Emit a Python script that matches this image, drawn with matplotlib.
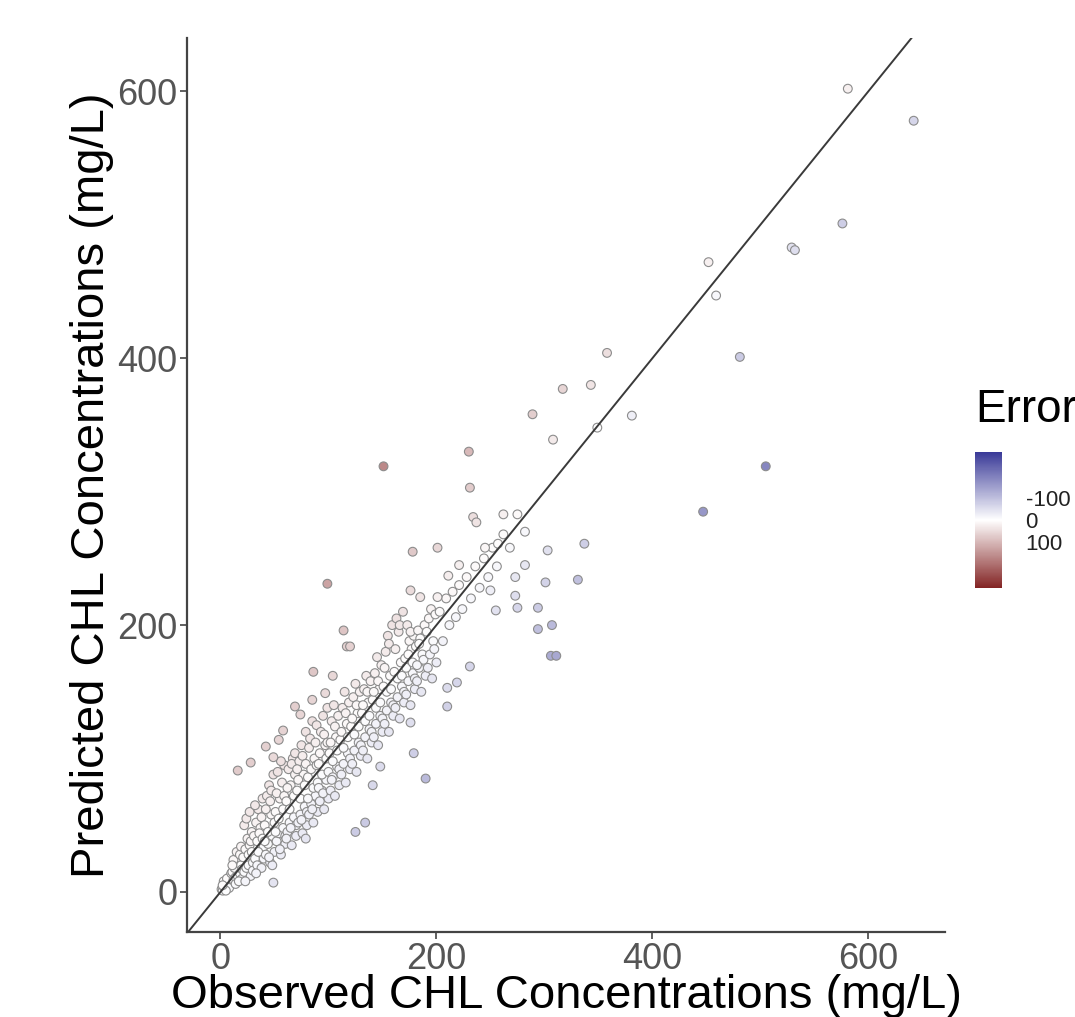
import numpy as np
import matplotlib
matplotlib.use("Agg")
import matplotlib.pyplot as plt
from matplotlib.colors import LinearSegmentedColormap, TwoSlopeNorm

plt.rcParams['font.family'] = ['Liberation Sans', 'DejaVu Sans']

# ---- data (observed, predicted) ----
obs_cloud = [
    1, 2, 3, 4, 5, 6, 7, 8, 9, 10, 3, 6, 8, 5, 10, 2,
    11, 12, 13, 14, 15, 16, 17, 18, 19, 20, 12, 15, 18, 14, 17, 20, 11, 19,
    21, 22, 23, 24, 25, 26, 27, 28, 29, 30, 22, 24, 26, 28, 30, 23, 27, 29,
    31, 32, 33, 34, 35, 36, 37, 38, 39, 40, 32, 34, 36, 38, 40, 33, 35, 39,
    41, 42, 43, 44, 45, 46, 47, 48, 49, 50, 42, 44, 46, 48, 50, 41, 45, 47,
    51, 52, 53, 54, 55, 56, 57, 58, 59, 60, 52, 54, 56, 58, 60, 51, 55, 59,
    61, 62, 63, 64, 65, 66, 67, 68, 69, 70, 62, 64, 66, 68, 70, 61, 65, 69,
    71, 72, 73, 74, 75, 76, 77, 78, 79, 80, 72, 74, 76, 78, 80, 71, 75, 79,
    81, 82, 83, 84, 85, 86, 87, 88, 89, 90, 82, 84, 86, 88, 90, 81, 85, 89,
    91, 92, 93, 94, 95, 96, 97, 98, 99, 100, 92, 94, 96, 98, 100, 91, 95, 99,
    101, 102, 103, 104, 105, 106, 107, 108, 109, 110, 102, 104, 106, 108, 110, 103,
    111, 112, 113, 114, 115, 116, 117, 118, 119, 120, 112, 114, 116, 118, 120,
    121, 122, 123, 124, 125, 126, 127, 128, 129, 130, 122, 124, 126, 128, 130,
    131, 132, 133, 134, 135, 136, 137, 138, 139, 140, 132, 134, 136, 138, 140,
    141, 142, 143, 144, 145, 146, 147, 148, 149, 150, 142, 144, 146, 148, 150,
    151, 152, 153, 154, 155, 156, 157, 158, 159, 160, 152, 154, 156, 158, 160,
    161, 162, 163, 164, 165, 166, 167, 168, 169, 170, 162, 164, 166, 168, 170,
    171, 172, 173, 174, 175, 176, 177, 178, 179, 180, 172, 174, 176, 178, 180,
    181, 182, 183, 184, 185, 186, 187, 188, 189, 190, 182, 184,
    191, 192, 193, 194, 195, 196, 197, 198, 199, 200,
    203, 206, 209, 212, 215, 218, 221, 224, 228, 232,
    236, 240, 244, 248, 252, 256, 262, 268, 275, 282,
]
pred_cloud = [
    2, 1, 4, 3, 6, 4, 9, 6, 12, 8, 8, 10, 3, 1, 14, 5,
    15, 9, 18, 11, 22, 12, 25, 14, 20, 10, 24, 30, 28, 6, 8, 17, 20, 34,
    26, 15, 32, 18, 40, 20, 35, 12, 45, 22, 50, 55, 28, 38, 16, 8, 60, 30,
    42, 25, 52, 20, 62, 30, 48, 18, 70, 34, 65, 38, 44, 56, 25, 14, 30, 40,
    50, 28, 72, 36, 80, 22, 58, 42, 88, 30, 62, 45, 68, 20, 52, 38, 26, 76,
    60, 38, 90, 44, 70, 28, 82, 48, 95, 36, 74, 55, 98, 62, 42, 45, 32, 72,
    68, 45, 92, 52, 80, 35, 100, 56, 88, 42, 78, 62, 96, 72, 50, 40, 48, 104,
    76, 52, 98, 58, 110, 44, 88, 64, 120, 50, 84, 70, 102, 80, 60, 92, 54, 96,
    86, 58, 115, 66, 128, 52, 100, 72, 125, 60, 108, 92, 78, 112, 82, 70, 62, 95,
    96, 68, 120, 76, 132, 62, 110, 84, 138, 70, 104, 88, 118, 100, 90, 78, 74, 112,
    104, 76, 128, 86, 140, 72, 116, 94, 132, 80, 112, 98, 124, 106, 92, 84,
    114, 88, 138, 96, 150, 82, 126, 104, 142, 92, 120, 108, 134, 116, 100,
    124, 96, 146, 106, 156, 90, 134, 112, 150, 102, 130, 118, 140, 124, 110,
    134, 106, 152, 116, 162, 100, 142, 122, 158, 112, 140, 128, 150, 132, 120,
    144, 116, 164, 126, 176, 110, 152, 132, 170, 120, 150, 138, 158, 142, 130,
    154, 126, 180, 136, 192, 120, 162, 142, 200, 132, 168, 150, 186, 152, 140,
    165, 138, 205, 146, 195, 130, 172, 154, 210, 142, 182, 160, 200, 162, 150,
    175, 148, 200, 158, 188, 140, 182, 164, 192, 152, 168, 178, 195, 172, 160,
    184, 158, 196, 168, 190, 150, 178, 174, 200, 162, 170, 186,
    195, 168, 205, 178, 212, 160, 188, 182, 208, 172,
    210, 188, 220, 200, 225, 206, 230, 212, 236, 220,
    244, 228, 250, 236, 258, 244, 268, 258, 283, 270,
]

obs_spread = [
    581, 642, 576, 529, 532, 452, 459, 481, 505, 447,
    358, 343, 381, 317, 289, 308, 349, 230, 151, 231,
    234, 237, 262, 257, 178, 201, 303, 337, 301, 331,
    273, 275, 99, 294, 307, 294, 306, 311, 114, 117,
    120, 86, 104, 97, 85, 69, 74, 58, 54, 42,
    28, 16, 49, 176, 185, 201, 231, 210, 219, 210,
    176, 179, 190, 148, 141, 134, 125, 79, 49, 245,
    221, 211, 282, 250, 255, 273,
]
pred_spread = [
    602, 578, 501, 483, 481, 472, 447, 401, 319, 285,
    404, 380, 357, 377, 358, 339, 348, 330, 319, 303,
    281, 277, 283, 261, 255, 258, 256, 261, 232, 234,
    236, 213, 231, 213, 200, 197, 177, 177, 196, 184,
    184, 165, 162, 149, 144, 139, 133, 121, 114, 109,
    97, 91, 101, 226, 221, 221, 169, 153, 157, 139,
    127, 104, 85, 94, 80, 52, 45, 40, 7, 258,
    245, 237, 245, 226, 211, 222,
]

observed = np.array(obs_cloud + obs_spread, dtype=float)
predicted = np.array(pred_cloud + pred_spread, dtype=float)
error = predicted - observed

err_ticks = [-100, 0, 100]
err_lo, err_hi = -305, 314

# ---- figure ----
W, H = 1075, 1017
fig = plt.figure(figsize=(W / 100, H / 100), dpi=100)
ax = fig.add_axes([187 / W, 1 - 932 / H, (945 - 187) / W, (932 - 38) / H])

cmap = LinearSegmentedColormap.from_list("err", ["#3A3A98", "#FFFFFF", "#832424"])
norm = TwoSlopeNorm(vcenter=0, vmin=err_lo, vmax=err_hi)

sc = ax.scatter(observed, predicted, c=error, cmap=cmap, norm=norm,
                s=40, edgecolors="#8c8c8c", linewidths=0.8, zorder=2)
ax.axline((0, 0), slope=1, color="#3a3a3a", lw=1.4, zorder=3)

ax.set_xlim(-31, 671)
ax.set_ylim(-30, 640)
ax.set_xticks([0, 200, 400, 600])
ax.set_yticks([0, 200, 400, 600])

for s in ["top", "right"]:
    ax.spines[s].set_visible(False)
for s in ["left", "bottom"]:
    ax.spines[s].set_color("#444444")
    ax.spines[s].set_linewidth(1.6)
ax.tick_params(length=5, width=1.2, color="#444444", labelcolor="#555555",
               labelsize=26, pad=2)

ax.set_xlabel("Observed CHL Concentrations (mg/L)", fontsize=34, labelpad=-2)
ax.set_ylabel("Predicted CHL Concentrations (mg/L)", fontsize=34, labelpad=2)

# ---- colour legend (cut by the right edge like the original) ----
fig.text(975 / W, 1 - 410 / H, "Error", fontsize=33, va="center", ha="left")
cax = fig.add_axes([975 / W, 1 - 588 / H, 27 / W, 136 / H])
cb = fig.colorbar(sc, cax=cax, ticks=err_ticks)
cax.invert_yaxis()
cb.outline.set_visible(False)
cax.tick_params(length=0, labelsize=16, pad=17, labelcolor="#222222")
cb.set_ticklabels([str(t) for t in err_ticks])

fig.savefig("out.png", dpi=100)
